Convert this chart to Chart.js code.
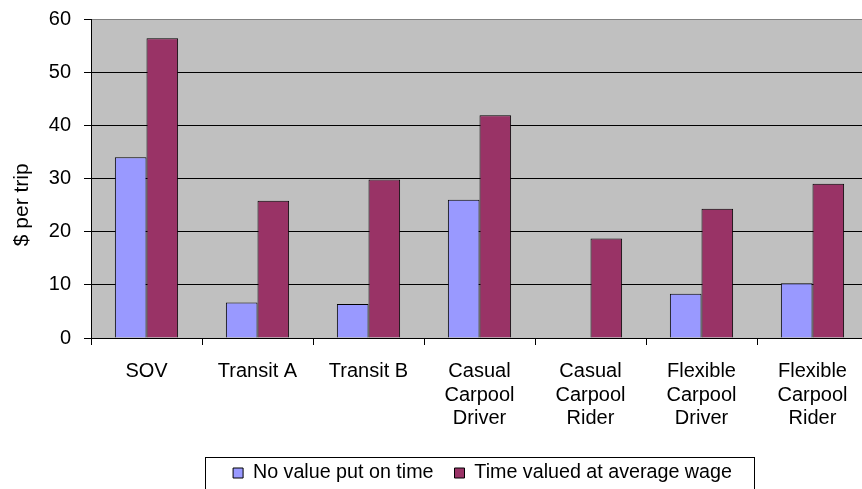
<!DOCTYPE html>
<html><head><meta charset="utf-8">
<script src="https://cdn.jsdelivr.net/npm/chart.js@4"></script>
<style>
html,body{margin:0;padding:0;background:#fff;overflow:hidden;width:862px;height:489px}
#wrap{width:870px;height:489px}
</style>
</head><body><div id="wrap"><canvas id="c" width="870" height="489"></canvas></div>
<script>
const categories = ['SOV','Transit A','Transit B',['Casual','Carpool','Driver'],['Casual','Carpool','Rider'],['Flexible','Carpool','Driver'],['Flexible','Carpool','Rider']];
const seriesNames = ['No value put on time','Time valued at average wage'];
const noValueOnTime = [34.0, 6.7, 6.4, 26.0, 0, 8.3, 10.3];
const timeAtAverageWage = [56.4, 25.8, 29.8, 41.9, 18.7, 24.3, 29.0];
const yMin = 0, yMax = 60, yStep = 10;
const yTitle = '$ per trip';

const FONT = "'Liberation Sans', Arial, sans-serif";
Chart.defaults.color = '#000';
Chart.defaults.font.family = FONT;

const plotBg = {
  id:'plotBg',
  beforeDraw(chart){
    const {ctx, chartArea:a} = chart;
    ctx.save(); ctx.fillStyle = '#C0C0C0';
    ctx.fillRect(a.left, a.top, a.right-a.left, a.bottom-a.top);
    ctx.restore();
  }
};
const legendPlace = {
  id:'legendPlace',
  afterLayout(chart){
    const lg = chart.legend; if(!lg) return;
    const lo = lg.options.labels;
    const fs = lo.font.size;
    const itemH = Math.max(lo.boxHeight, fs);
    const w = lg.right - lg.left, h = lg.bottom - lg.top;
    const cx = 482.5;
    lg.left = cx - w/2; lg.right = cx + w/2;
    lg.top = 473 - lo.padding - itemH/2; lg.bottom = lg.top + h;
  },
  afterDraw(chart){
    const lg = chart.legend; if(!lg || !lg.lineWidths) return;
    const pad = lg.options.labels.padding;
    const lw = lg.lineWidths[0];
    const start = (lg.left + lg.right + pad - lw)/2;
    const end = start + lw - pad;
    const ctx = chart.ctx;
    ctx.save(); ctx.strokeStyle = '#000'; ctx.lineWidth = 1;
    ctx.strokeRect(Math.round(start-28)+0.5, 457.5, Math.round(end-start+50), 60);
    ctx.restore();
  }
};

new Chart(document.getElementById('c'), {
  type:'bar',
  data:{
    labels: categories,
    datasets:[
      {label: seriesNames[0], data: noValueOnTime, backgroundColor:'#9999FF', borderColor:'#000', borderWidth:1},
      {label: seriesNames[1], data: timeAtAverageWage, backgroundColor:'#993366', borderColor:'#000', borderWidth:1}
    ]
  },
  options:{
    responsive:false, animation:false,
    devicePixelRatio:1,
    layout:{padding:{top:19,right:2,left:0,bottom:0}},
    datasets:{bar:{categoryPercentage:0.57, barPercentage:1}},
    plugins:{
      tooltip:{enabled:false},
      legend:{
        position:'bottom',
        labels:{boxWidth:10, boxHeight:10, padding:21, font:{size:19.7, family:FONT}, color:'#000'}
      }
    },
    scales:{
      x:{
        grid:{display:true, drawOnChartArea:false, drawTicks:true, tickLength:7, color:'#000', offset:true},
        border:{display:true, color:'#000', width:1},
        ticks:{font:{size:20, family:FONT, lineHeight:1.17}, padding:15, maxRotation:0, autoSkip:false, color:'#000'},
        afterFit(s){ const lh = s.chart.legend ? s.chart.legend.height : 0; s.height = 489 - 338 - lh; s.paddingLeft = 0; s.paddingRight = 0; }
      },
      y:{
        min:yMin, max:yMax,
        grid:{color:(c)=> (c.tick && c.tick.value===yMax) ? '#808080' : '#000', tickColor:'#000', tickLength:7, lineWidth:1},
        border:{display:true, color:'#000', width:1},
        ticks:{stepSize:yStep, font:{size:20, family:FONT}, padding:13, color:'#000'},
        title:{display:true, text: yTitle + '         ', font:{size:21, family:FONT}, padding:{top:10,bottom:0}, color:'#000'},
        afterFit(s){ s.width = 91; s.paddingTop = 0; s.paddingBottom = 0; }
      }
    }
  },
  plugins:[plotBg, legendPlace]
});
</script>
</body></html>
